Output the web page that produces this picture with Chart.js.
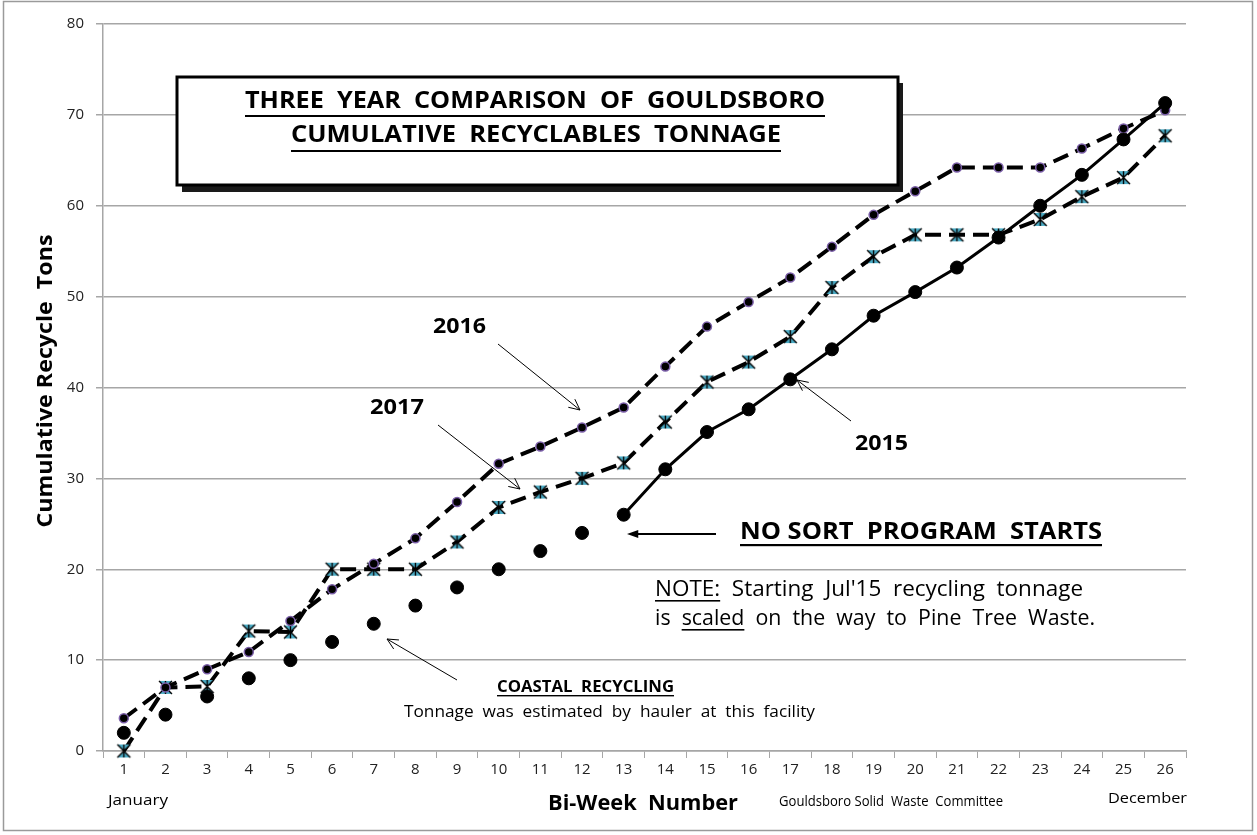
<!DOCTYPE html>
<html>
<head>
<meta charset="utf-8">
<script src="https://cdn.jsdelivr.net/npm/chart.js@4.4.1/dist/chart.umd.min.js"></script>
<style>
  html, body { margin: 0; padding: 0; background: #fff; }
  #wrap { width: 1257px; height: 835px; position: relative; }
</style>
</head>
<body>
<div id="wrap"><canvas id="recycleChart"></canvas></div>
<script>
// bi-week numbers (x categories)
const weeks = ["1","2","3","4","5","6","7","8","9","10","11","12","13",
               "14","15","16","17","18","19","20","21","22","23","24","25","26"];
const yTicks = [0, 10, 20, 30, 40, 50, 60, 70, 80];

// cumulative tons
const tons2015 = [2, 4, 6, 8, 10, 12, 14, 16, 18, 20, 22, 24, 26,
                  31, 35.1, 37.6, 40.9, 44.2, 47.9, 50.5, 53.2, 56.5, 60, 63.4, 67.3, 71.3];
const tons2016 = [3.6, 7, 9, 10.9, 14.3, 17.8, 20.6, 23.4, 27.4, 31.6, 33.5, 35.6, 37.8,
                  42.3, 46.7, 49.4, 52.1, 55.5, 59, 61.6, 64.2, 64.2, 64.2, 66.3, 68.5, 70.5];
const tons2017 = [0, 7, 7.1, 13.2, 13.1, 20, 20, 20, 23, 26.8, 28.5, 30, 31.7,
                  36.2, 40.6, 42.8, 45.6, 51, 54.4, 56.8, 56.8, 56.8, 58.5, 61, 63.1, 67.7];
// 2015 weeks 1-12 were estimated (Coastal Recycling), no line drawn until week 13
const noSortIndex = 12;

const FONT = "'Open Sans', Lato, sans-serif";
Chart.defaults.font.family = FONT;
Chart.defaults.color = "#222";

// star marker used by 2017 (x + vertical bar, teal bow-tie fill)
function starMarker() {
  const c = document.createElement("canvas");
  c.width = 17; c.height = 17;
  const g = c.getContext("2d");
  const m = 8.5, r = 6.5;
  g.fillStyle = "#4bacc6";
  g.beginPath(); g.moveTo(m - r, m - r); g.lineTo(m + r, m - r); g.lineTo(m, m); g.closePath(); g.fill();
  g.beginPath(); g.moveTo(m - r, m + r); g.lineTo(m + r, m + r); g.lineTo(m, m); g.closePath(); g.fill();
  g.strokeStyle = "#000"; g.lineWidth = 1.4;
  g.beginPath();
  g.moveTo(m - r, m - r); g.lineTo(m + r, m + r);
  g.moveTo(m + r, m - r); g.lineTo(m - r, m + r);
  g.moveTo(m, m - r); g.lineTo(m, m + r);
  g.stroke();
  return c;
}

// text runs, squeezed/stretched to a target width; u = underline
function drawRuns(ctx, runs, x, y, font, width, opts = {}) {
  ctx.save();
  ctx.font = font;
  ctx.fillStyle = "#000";
  ctx.textBaseline = "alphabetic";
  ctx.textAlign = "left";
  const total = runs.reduce((s, r) => s + ctx.measureText(r.t).width, 0);
  const sx = width / total;
  ctx.translate(x, y);
  if (opts.rotate) ctx.rotate(opts.rotate);
  ctx.scale(sx, 1);
  let cx = opts.center ? -total / 2 : 0;
  runs.forEach(r => {
    const w = ctx.measureText(r.t).width;
    ctx.fillText(r.t, cx, 0);
    if (r.u) {
      ctx.fillRect(cx, (opts.uy || 4), w, (opts.uw || 1.5));
    }
    cx += w;
  });
  ctx.restore();
}

function arrow(ctx, x1, y1, x2, y2, lw, head, filled) {
  const a = Math.atan2(y2 - y1, x2 - x1);
  ctx.save();
  ctx.strokeStyle = "#000"; ctx.fillStyle = "#000";
  ctx.lineWidth = lw;
  ctx.beginPath();
  ctx.moveTo(x1, y1);
  ctx.lineTo(filled ? x2 - Math.cos(a) * head * 0.8 : x2, filled ? y2 - Math.sin(a) * head * 0.8 : y2);
  ctx.stroke();
  const s = filled ? 0.35 : 0.45;
  const p1 = [x2 - head * Math.cos(a - s), y2 - head * Math.sin(a - s)];
  const p2 = [x2 - head * Math.cos(a + s), y2 - head * Math.sin(a + s)];
  ctx.beginPath();
  if (filled) {
    ctx.moveTo(x2, y2); ctx.lineTo(p1[0], p1[1]); ctx.lineTo(p2[0], p2[1]); ctx.closePath(); ctx.fill();
  } else {
    ctx.lineWidth = 1;
    ctx.moveTo(p1[0], p1[1]); ctx.lineTo(x2, y2); ctx.lineTo(p2[0], p2[1]); ctx.stroke();
  }
  ctx.restore();
}

const decorations = {
  id: "decorations",
  beforeDatasetsDraw(chart) {
    const ctx = chart.ctx;
    // title box with drop shadow
    ctx.save();
    ctx.fillStyle = "#1a1a1a";
    ctx.fillRect(182, 83, 721, 109);
    ctx.fillStyle = "#fff";
    ctx.fillRect(177, 77, 721, 108);
    ctx.strokeStyle = "#000"; ctx.lineWidth = 3;
    ctx.strokeRect(177, 77, 721, 108);
    ctx.restore();
    drawRuns(ctx, [{ t: "THREE  YEAR  COMPARISON  OF  GOULDSBORO", u: true }], 245, 108, "bold 24px " + FONT, 580, { uy: 7, uw: 2 });
    drawRuns(ctx, [{ t: "CUMULATIVE  RECYCLABLES  TONNAGE", u: true }], 291, 142, "bold 24px " + FONT, 490, { uy: 8, uw: 2 });
  },
  afterDraw(chart) {
    const ctx = chart.ctx;
    const b = "bold ";
    drawRuns(ctx, [{ t: "2016" }], 433, 333, b + "21px " + FONT, 53);
    drawRuns(ctx, [{ t: "2017" }], 370, 414, b + "21px " + FONT, 54);
    drawRuns(ctx, [{ t: "2015" }], 855, 450, b + "21px " + FONT, 53);
    drawRuns(ctx, [{ t: "NO SORT  PROGRAM  STARTS", u: true }], 740, 539, b + "24px " + FONT, 362, { uy: 5, uw: 2.2 });
    drawRuns(ctx, [{ t: "NOTE:", u: true }, { t: "  Starting  Jul'15  recycling  tonnage" }], 655, 596, "22px " + FONT, 428, { uy: 4, uw: 1.6 });
    drawRuns(ctx, [{ t: "is  " }, { t: "scaled", u: true }, { t: "  on  the  way  to  Pine  Tree  Waste." }], 655, 625, "22px " + FONT, 440, { uy: 4, uw: 1.6 });
    drawRuns(ctx, [{ t: "COASTAL  RECYCLING", u: true }], 497, 692, b + "16px " + FONT, 177, { uy: 3, uw: 1.4 });
    drawRuns(ctx, [{ t: "Tonnage  was  estimated  by  hauler  at  this  facility" }], 404, 717, "16px " + FONT, 411);
    drawRuns(ctx, [{ t: "Bi-Week  Number" }], 548, 810, b + "21px " + FONT, 190);
    drawRuns(ctx, [{ t: "Gouldsboro Solid  Waste  Committee" }], 779, 806, "14px " + FONT, 224);
    drawRuns(ctx, [{ t: "January" }], 108, 805, "15px " + FONT, 60);
    drawRuns(ctx, [{ t: "December" }], 1108, 803, "15px " + FONT, 79);
    drawRuns(ctx, [{ t: "Cumulative Recycle  Tons" }], 52, 381, b + "21px " + FONT, 293, { rotate: -Math.PI / 2, center: true });

    arrow(ctx, 498, 344, 580, 410, 1, 12, false);
    arrow(ctx, 438, 425, 520, 489, 1, 12, false);
    arrow(ctx, 851, 421, 797, 380, 1, 12, false);
    arrow(ctx, 457, 680, 387, 639, 1, 12, false);
    arrow(ctx, 716, 534, 627, 534, 2, 12, true);

    // outer frame
    ctx.save();
    ctx.strokeStyle = "#9a9a9a"; ctx.lineWidth = 1.5;
    ctx.strokeRect(3.5, 1.5, 1249, 829);
    ctx.restore();
  }
};

const gridGray = "#a6a6a6";

new Chart(document.getElementById("recycleChart"), {
  type: "line",
  data: {
    labels: weeks,
    datasets: [
      {
        label: "2015",
        data: tons2015,
        borderColor: "#000",
        borderWidth: 3,
        pointRadius: 6.5,
        pointBackgroundColor: "#000",
        pointBorderColor: "#000",
        pointBorderWidth: 1,
        tension: 0,
        clip: false,
        segment: {
          borderColor: (c) => (c.p0DataIndex < noSortIndex ? "rgba(0,0,0,0)" : "#000"),
        },
      },
      {
        label: "2016",
        data: tons2016,
        borderColor: "#000",
        borderWidth: 4,
        borderDash: [16, 8],
        pointRadius: 4.5,
        pointBackgroundColor: "#000",
        pointBorderColor: "#7b5fa8",
        pointBorderWidth: 1.5,
        tension: 0,
        clip: false,
      },
      {
        label: "2017",
        data: tons2017,
        borderColor: "#000",
        borderWidth: 4,
        borderDash: [16, 8],
        pointStyle: starMarker(),
        pointRadius: 8,
        tension: 0,
        clip: false,
      },
    ],
  },
  options: {
    responsive: true,
    maintainAspectRatio: false,
    animation: false,
    events: [],
    layout: { padding: { left: 0, right: 71, top: 24, bottom: 0 } },
    plugins: {
      legend: { display: false },
      tooltip: { enabled: false },
      title: { display: false },
    },
    scales: {
      x: {
        type: "category",
        offset: true,
        afterFit: (s) => { s.height = 84; },
        grid: {
          offset: true,
          drawOnChartArea: false,
          drawTicks: true,
          tickLength: 7,
          color: gridGray,
        },
        border: { color: gridGray, width: 1.5 },
        ticks: { font: { size: 15 }, color: "#222", padding: 3, maxRotation: 0, autoSkip: false },
      },
      y: {
        min: 0,
        max: 80,
        afterFit: (s) => { s.width = 103; },
        afterBuildTicks: (s) => { s.ticks = yTicks.map((v) => ({ value: v })); },
        grid: { color: gridGray, lineWidth: 1.5, tickLength: 7 },
        border: { color: gridGray, width: 1.5 },
        ticks: { font: { size: 15 }, color: "#222", padding: 12 },
      },
    },
  },
  plugins: [decorations],
});
</script>
</body>
</html>
